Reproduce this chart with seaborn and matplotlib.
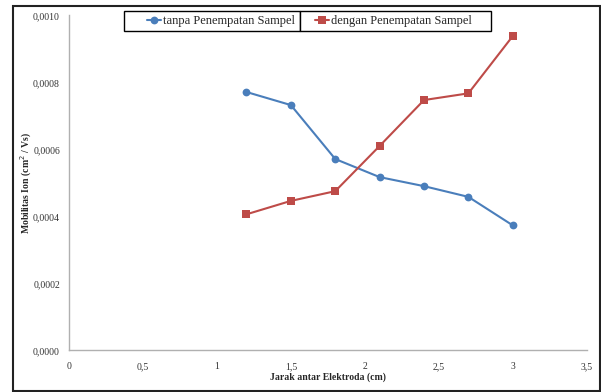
import matplotlib
matplotlib.use("Agg")
import matplotlib.pyplot as plt
import seaborn as sns
import pandas as pd
from matplotlib.ticker import FuncFormatter, MultipleLocator
from matplotlib.patches import Rectangle
from matplotlib.lines import Line2D

# Distance between electrodes (cm)
jarak = [1.2, 1.5, 1.8, 2.1, 2.4, 2.7, 3.0]
# Ion mobility (cm^2 / Vs)
tanpa_sampel = [0.000771, 0.000732, 0.000571, 0.000517, 0.000490, 0.000458, 0.000373]
dengan_sampel = [0.000406, 0.000446, 0.000475, 0.000610, 0.000747, 0.000767, 0.000938]
label_tanpa = "tanpa Penempatan Sampel"
label_dengan = "dengan Penempatan Sampel"

sns.set_theme(style="white")
plt.rcParams["font.family"] = ["Liberation Serif", "DejaVu Serif"]

W, H = 601, 392
fig = plt.figure(figsize=(W / 100, H / 100), dpi=100)
ax_w = (586.7 - 69) / W
ax_h = (350.3 - 15.3) / H
ax = fig.add_axes([69 / W, 1 - 350.3 / H, ax_w, ax_h])

blue = "#4a7ebb"
red = "#be4b48"
circle_kw = dict(marker="o", markersize=5.6, markeredgewidth=0, linewidth=1.5)
square_kw = dict(marker="s", markersize=6.0, markeredgewidth=0, linewidth=1.5)

df_t = pd.DataFrame({"x": jarak, "y": tanpa_sampel})
df_d = pd.DataFrame({"x": jarak, "y": dengan_sampel})
sns.lineplot(data=df_t, x="x", y="y", ax=ax, color=blue, **circle_kw)
sns.lineplot(data=df_d, x="x", y="y", ax=ax, color=red, **square_kw)

ax.set_xlim(0, 3.5)
ax.set_ylim(0, 0.0010)
ax.xaxis.set_major_locator(MultipleLocator(0.5))
ax.xaxis.set_minor_locator(MultipleLocator(0.25))
ax.yaxis.set_major_locator(MultipleLocator(0.0002))
ax.yaxis.set_minor_locator(MultipleLocator(0.0001))


def fmt_x(v, _):
    return f"{v:g}".replace(".", ",")


def fmt_y(v, _):
    return f"{v:.4f}".replace(".", ",")


ax.xaxis.set_major_formatter(FuncFormatter(fmt_x))
ax.yaxis.set_major_formatter(FuncFormatter(fmt_y))

axis_grey = "#b0b0b0"
for side in ["top", "right"]:
    ax.spines[side].set_visible(False)
for side in ["left", "bottom"]:
    ax.spines[side].set_color(axis_grey)
    ax.spines[side].set_linewidth(1.0)

ax.tick_params(axis="both", which="both", direction="inout", color=axis_grey,
               width=1.0, labelsize=7, labelcolor="#333333")
ax.tick_params(axis="both", which="major", length=5, pad=4)
ax.tick_params(axis="both", which="minor", length=5)
ax.tick_params(axis="x", which="major", pad=6)

ax.set_xlabel("Jarak antar Elektroda (cm)", fontsize=7, fontweight="bold")
ax.set_ylabel("Mobilitas Ion (cm$^2$ / Vs)", fontsize=7, fontweight="bold")
ax.xaxis.set_label_coords(0.5, (350.3 - 377) / 335, transform=ax.transAxes)
ax.xaxis.label.set_va("center")
ax.yaxis.set_label_coords((26 - 69) / 517.7, 0.5, transform=ax.transAxes)
ax.yaxis.label.set_va("center")

# legend: two adjoining boxes, one entry each
for x0, x1 in [(124, 300), (300, 491)]:
    ax.add_patch(Rectangle((x0 / W, 1 - 31 / H), (x1 - x0) / W, 20 / H,
                           transform=fig.transFigure, fill=True, clip_on=False,
                           facecolor="white", edgecolor="black",
                           linewidth=1.0, zorder=5))

h_t = Line2D([], [], color=blue, **circle_kw)
h_d = Line2D([], [], color=red, **square_kw)
leg_kw = dict(frameon=False, fontsize=9, handlelength=1.15, handletextpad=0.1,
              borderpad=0, borderaxespad=0, loc="center left",
              bbox_transform=fig.transFigure)
leg1 = ax.legend([h_t], [label_tanpa], bbox_to_anchor=(147 / W, 1 - 21 / H), **leg_kw)
leg1.set_zorder(10)
ax.add_artist(leg1)
leg2 = ax.legend([h_d], [label_dengan], bbox_to_anchor=(315 / W, 1 - 21 / H), **leg_kw)
leg2.set_zorder(10)

# outer frame around the whole chart
fig.patches.append(Rectangle((13 / W, 1 - 391 / H), (600 - 13) / W, (391 - 6) / H,
                             transform=fig.transFigure, fill=False,
                             edgecolor="#222222", linewidth=1.5))

fig.savefig("out.png", dpi=100)
